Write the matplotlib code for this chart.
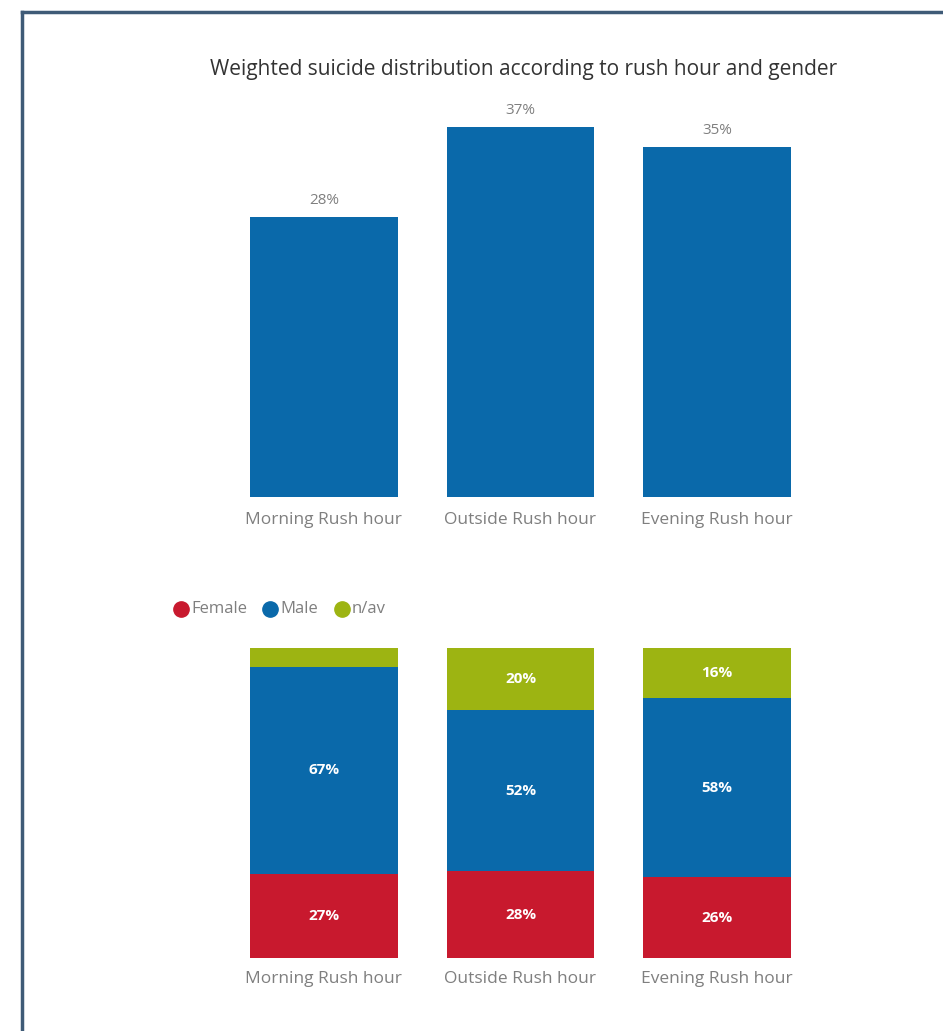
import numpy as np
import matplotlib.pyplot as plt
from matplotlib.lines import Line2D

# data
categories = ['Morning Rush hour', 'Outside Rush hour', 'Evening Rush hour']
share = [28, 37, 35]
female = [27, 28, 26]
male = [67, 52, 58]
nav = [6, 20, 16]
nav_labels = ['', '20%', '16%']
legend_names = ['Female', 'Male', 'n/av']

BLUE = '#0a69aa'
RED = '#c8192e'
GREEN = '#9db412'
GREY = '#7f7f7f'

plt.rcParams['font.family'] = ['Open Sans', 'DejaVu Sans']

fig = plt.figure(figsize=(9.43, 10.31), dpi=100)
W, H = 943, 1031

def px_axes(left, top, right, bottom):
    return fig.add_axes([left / W, 1 - bottom / H, (right - left) / W, (bottom - top) / H])

# frame around the visual (only top and left edges visible)
fig.add_artist(Line2D([22 / W, 1], [1 - 12 / H] * 2, color='#3f5b77', lw=2.5))
fig.add_artist(Line2D([22 / W] * 2, [0, 1 - 12 / H], color='#3f5b77', lw=2.5))

fig.text(524 / W, 1 - 70 / H, 'Weighted suicide distribution according to rush hour and gender',
         ha='center', va='center', fontsize=15, color='#333333')

x = np.arange(len(categories))

# top chart
ax1 = px_axes(225.5, 97, 815.5, 497)
ax1.bar(x, share, width=0.75, color=BLUE)
for xi, v in zip(x, share):
    ax1.annotate(f'{v}%', (xi, v), xytext=(0, 12), textcoords='offset points',
                 ha='center', va='center', fontsize=11, color=GREY)
ax1.set_xlim(-0.5, 2.5)
ax1.set_ylim(0, 40)

# bottom stacked chart
ax2 = px_axes(225.5, 648, 815.5, 958)
ax2.bar(x, female, width=0.75, color=RED)
ax2.bar(x, male, width=0.75, bottom=female, color=BLUE)
ax2.bar(x, nav, width=0.75, bottom=np.add(female, male), color=GREEN)
lbl = dict(ha='center', va='center', fontsize=11, color='white', fontweight='bold')
for xi, f, m, n, nl in zip(x, female, male, nav, nav_labels):
    ax2.text(xi, f / 2, f'{f}%', **lbl)
    ax2.text(xi, f + m / 2, f'{m}%', **lbl)
    if nl:
        ax2.text(xi, f + m + n / 2, nl, **lbl)
ax2.set_xlim(-0.5, 2.5)
ax2.set_ylim(0, 100)

for ax, pad in ((ax1, 11), (ax2, 9.5)):
    ax.set_xticks(x)
    ax.set_xticklabels(categories, fontsize=12.5, color=GREY)
    ax.tick_params(axis='x', length=0, pad=pad)
    ax.set_yticks([])
    for s in ax.spines.values():
        s.set_visible(False)

# legend drawn by hand so spacing follows the reference
for xc, name, c in zip([181, 270, 342], legend_names, (RED, BLUE, GREEN)):
    fig.add_artist(Line2D([xc / W], [1 - 609 / H], marker='o', ls='', markersize=11, color=c))
    fig.text((xc + 10) / W, 1 - 609 / H, name, ha='left', va='center', fontsize=12, color=GREY)

fig.savefig('out.png', dpi=100)
